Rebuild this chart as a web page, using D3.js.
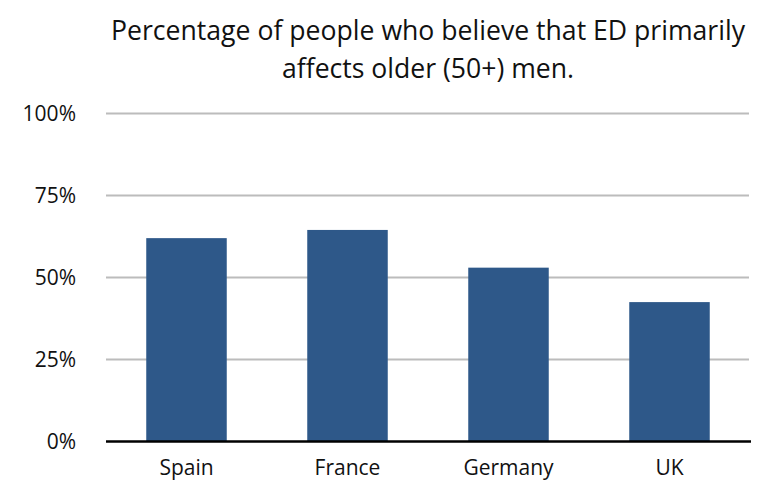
<!DOCTYPE html>
<html>
<head>
<meta charset="utf-8">
<script src="https://cdn.jsdelivr.net/npm/d3@7"></script>
<style>
  html, body { margin: 0; padding: 0; background: #fff; }
  svg { display: block; font-family: "Open Sans", "Noto Sans", sans-serif; }
</style>
</head>
<body>
<svg id="chart" width="765" height="488"></svg>
<script>
// Share of respondents who think ED mainly affects men aged 50+
const countries = ["Spain", "France", "Germany", "UK"];
const shares = [62, 64.5, 53, 42.5];
const tickValues = [0, 25, 50, 75, 100];
const titleLines = ["Percentage of people who believe that ED primarily", "affects older (50+) men."];

const svg = d3.select("#chart");
const margin = { left: 106, right: 15, top: 113.5, bottom: 46.5 };
const width = 765, height = 488;

const x = d3.scaleBand()
  .domain(countries)
  .range([margin.left, width - margin.right])
  .paddingInner(0.5)
  .paddingOuter(0.25);

const y = d3.scaleLinear()
  .domain([0, 100])
  .range([height - margin.bottom, margin.top]);

// title: two centred lines; the font size is chosen so the longer line
// sets naturally at the wanted width, then both are fitted exactly
const titleWidths = [634, 292];
const title = svg.append("g");
const probe = title.append("text").attr("font-size", 28).text(titleLines[0]);
const natural = probe.node().getComputedTextLength();
probe.remove();
const titleSize = Math.min(28, 28 * titleWidths[0] / natural);
titleLines.forEach((line, i) => {
  title.append("text")
    .attr("x", 428)
    .attr("y", 40 + i * 38)
    .attr("text-anchor", "middle")
    .attr("font-size", titleSize)
    .attr("fill", "#111")
    .attr("textLength", titleWidths[i])
    .attr("lengthAdjust", "spacingAndGlyphs")
    .text(line);
});

// horizontal gridlines
svg.append("g")
  .selectAll("line")
  .data(tickValues.filter(v => v > 0))
  .join("line")
  .attr("x1", margin.left)
  .attr("x2", width - margin.right - 1)
  .attr("y1", d => y(d))
  .attr("y2", d => y(d))
  .attr("stroke", "#bcbcbc")
  .attr("stroke-width", 2);

// y-axis labels
const yAxis = d3.axisLeft(y)
  .tickValues(tickValues)
  .tickFormat(d => d + "%")
  .tickSize(0)
  .tickPadding(0);

svg.append("g")
  .attr("transform", `translate(${margin.left - 30},0)`)
  .call(yAxis)
  .call(g => g.select(".domain").remove())
  .call(g => g.selectAll("text")
    .attr("font-family", "'Open Sans', 'Noto Sans', sans-serif")
    .attr("font-size", 21)
    .attr("fill", "#111")
    .attr("dy", "0.33em"));

// bars
svg.append("g")
  .selectAll("rect")
  .data(countries.map((c, i) => ({ country: c, value: shares[i] })))
  .join("rect")
  .attr("x", d => x(d.country))
  .attr("width", x.bandwidth())
  .attr("y", d => y(d.value))
  .attr("height", d => y(0) - y(d.value))
  .attr("fill", "#2e5889");

// baseline and category labels
const xAxis = d3.axisBottom(x).tickSize(0).tickPadding(0);
svg.append("g")
  .attr("transform", `translate(0,${y(0)})`)
  .call(xAxis)
  .call(g => g.select(".domain")
    .attr("d", `M${margin.left},0H${width - margin.right + 1}`)
    .attr("stroke", "#000")
    .attr("stroke-width", 2.5))
  .call(g => g.selectAll("text")
    .attr("font-family", "'Open Sans', 'Noto Sans', sans-serif")
    .attr("font-size", 21)
    .attr("fill", "#111")
    .attr("dy", "1.6em"));
</script>
</body>
</html>
